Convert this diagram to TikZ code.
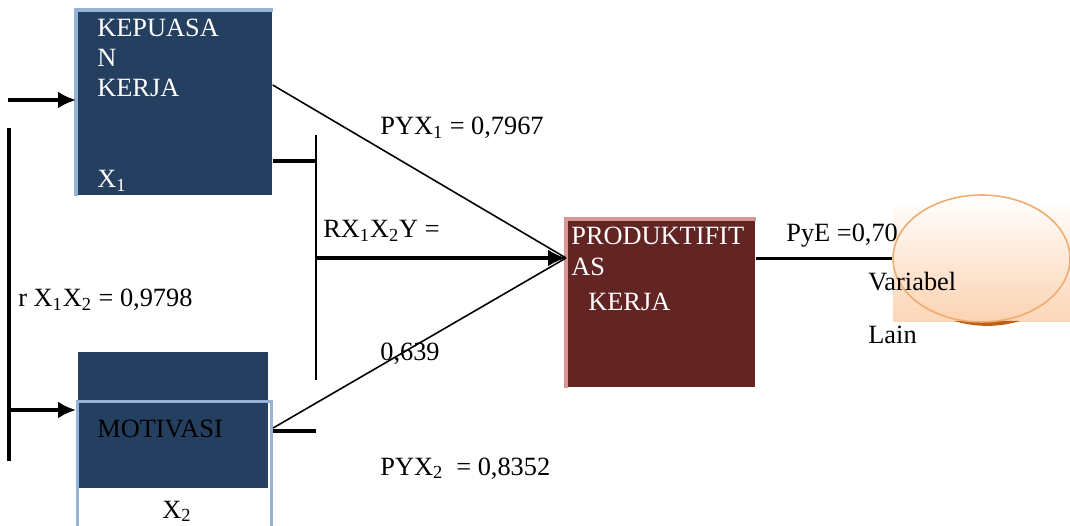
\documentclass[tikz,border=0pt]{standalone}
\usepackage{fontspec}
\setmainfont{Liberation Serif}
\usetikzlibrary{arrows.meta,positioning,shapes.geometric}
\definecolor{navyBox}{RGB}{36,63,96}
\definecolor{blueEdge}{RGB}{149,179,215}
\definecolor{maroonBox}{RGB}{99,37,35}
\definecolor{pinkEdge}{RGB}{217,150,148}
\definecolor{peach}{RGB}{250,192,144}
\definecolor{peachEdge}{RGB}{240,172,112}
\definecolor{rustShadow}{RGB}{190,95,20}
\begin{document}
\begin{tikzpicture}[x=0.02cm,y=-0.02cm,
      txt/.style={font=\fontsize{15}{17}\selectfont,inner sep=0pt,anchor=base west},
      boxtxt/.style={txt,text=white},
      fillbox/.style={draw=none,inner sep=0pt,anchor=north west},
      heavy/.style={line width=1.9pt},
      slim/.style={line width=0.9pt},
      edge/.style={line width=1.8pt},
      arr/.style={-{Latex[length=3.6mm,width=3.4mm]},heavy}
    ]
    \useasboundingbox (0,0) rectangle (1070,526);
    \node[fillbox,fill=navyBox,minimum width=3.92cm,minimum height=3.7cm] (kepuasan) at (76,10) {};
    \draw[edge,blueEdge] (kepuasan.south west) -- (kepuasan.north west) -- (kepuasan.north east);
    \node[boxtxt,anchor=north west,align=left] (kepuasantxt) at (97,19) {KEPUASA\\N\\KERJA};
    \node[boxtxt] (xone) at (97,188) {X\textsubscript{1}};
    \node[fillbox,fill=navyBox,minimum width=3.8cm,minimum height=2.72cm] (motivasitop) at (78,352) {};
    \node[fillbox,draw=blueEdge,edge,minimum width=3.88cm,minimum height=2.8cm] (motivasi) at (76,400) {};
    \node[txt] (motivasitxt) at (97,437) {MOTIVASI};
    \node[txt] (xtwo) at (162,518) {X\textsubscript{2}};
    \node[fillbox,fill=maroonBox,minimum width=3.78cm,minimum height=3.36cm] (produk) at (566,219) {};
    \draw[edge,pinkEdge] (produk.south west) -- (produk.north west) -- (produk.north east);
    \node[boxtxt] (produktxt) at (571,245) {PRODUKTIFIT};
    \node[boxtxt] (astxt) at (571,276) {AS};
    \node[boxtxt] (kerjatxt) at (588,311) {KERJA};
    \shade[top color=peach!8,bottom color=peach!65] (893,208) rectangle (1070,322);
    \fill[rustShadow] (954,321) .. controls (977,327.5) and (998,327.5) .. (1020,321) -- cycle;
    \node[ellipse,draw=peachEdge,slim,top color=white,bottom color=peach!70,minimum width=3.54cm,minimum height=2.54cm,inner sep=0pt] (lain) at (981.5,258.5) {};
    \coordinate (src) at (8,100);
    \coordinate (leftTop) at (9,128);
    \coordinate (leftBot) at (9,461);
    \coordinate (barTop) at (316,135);
    \coordinate (barBot) at (316,380);
    \coordinate (tip) at ([yshift=-0.78cm]produk.north west);
    \coordinate (in2) at ([yshift=-0.2cm]motivasi.north west);
    \coordinate (k1) at ([yshift=-3.02cm]kepuasan.north east);
    \coordinate (k2) at ([yshift=-1.5cm]kepuasan.north east);
    \coordinate (m1) at ([yshift=-0.56cm]motivasi.north east);
    \coordinate (m2) at ([yshift=-0.62cm]motivasi.north east);
    \draw[arr] (src) -- (src -| kepuasan.west);
    \draw[heavy] (leftTop) -- (leftBot);
    \draw[arr] (in2 -| leftTop) -- (in2);
    \draw[slim] (barTop) -- (barBot);
    \draw[heavy] (k1) -- (k1 -| barTop);
    \draw[heavy] (m2) -- (m2 -| barTop);
    \draw[slim] (k2) -- (tip);
    \draw[slim] (m1) -- (tip);
    \draw[arr] (tip -| barTop) -- (tip);
    \draw[heavy] (lain.west -| produk.east) -- (lain.west);
    \node[txt] (pyxone) at (380,135) {PYX\textsubscript{1} = 0,7967};
    \node[txt] (rxy) at (323,238) {RX\textsubscript{1}X\textsubscript{2}Y =};
    \node[txt] (rval) at (380,360) {0,639};
    \node[txt] (pyxtwo) at (380,475) {PYX\textsubscript{2}\ \ = 0,8352};
    \node[txt] (rxx) at (18,307) {r X\textsubscript{1}X\textsubscript{2} = 0,9798};
    \node[txt] (pye) at (786,242) {PyE =0,70};
    \node[txt] (variabel) at (868,291) {Variabel};
    \node[txt] (laintxt) at (868,343) {Lain};
  \end{tikzpicture}
\end{document}
